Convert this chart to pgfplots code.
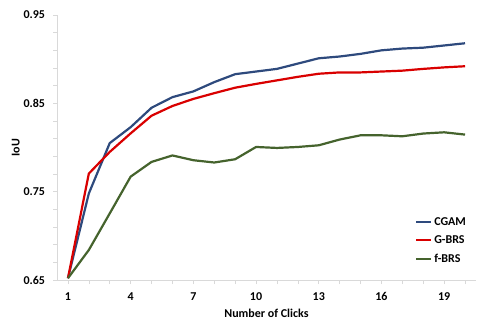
\documentclass[border=0pt]{standalone}
\usepackage{pgfplots}
\pgfplotsset{compat=1.18}
\usepackage{fontspec}
\setmainfont{Carlito}

\definecolor{cgam}{HTML}{2E4A7D}
\definecolor{gbrs}{HTML}{D90000}
\definecolor{fbrs}{HTML}{45632D}
\definecolor{axgray}{HTML}{D9D9D9}

\begin{document}
\begin{tikzpicture}
\begin{axis}[
    at={(0pt,0pt)}, anchor=south west,
    scale only axis,
    width=418pt, height=265pt,
    xmin=0.5, xmax=20.5,
    ymin=0.65, ymax=0.95,
    axis x line*=bottom, axis y line*=left,
    axis line style={axgray, line width=0.8pt, -},
    xtick={1,4,7,10,13,16,19},
    minor xtick={2,3,5,6,8,9,11,12,14,15,17,18,20},
    ytick={0.65,0.75,0.85,0.95},
    minor ytick={0.67,0.69,0.71,0.73,0.77,0.79,0.81,0.83,0.87,0.89,0.91,0.93},
    yticklabel style={/pgf/number format/fixed, /pgf/number format/fixed zerofill,
        /pgf/number format/precision=2, xshift=-5pt},
    tick style={axgray, line width=0.6pt},
    major tick length=4pt, minor tick length=4pt,
    tick align=outside,
    /pgf/number format/assume math mode=true,
    ticklabel style={font=\fontsize{12}{14}\selectfont\bfseries, black},
    xticklabel style={yshift=-5pt},
    xlabel={Number of Clicks},
    ylabel={IoU},
    label style={font=\fontsize{12}{14}\selectfont\bfseries},
    xlabel style={yshift=-1pt},
    ylabel style={yshift=-3pt},
    legend style={draw=none, fill=none, at={(0.855,0.245)}, anchor=north west,
        font=\fontsize{12}{14}\selectfont\bfseries, row sep=5pt, inner sep=0pt},
    legend cell align=left,
    legend image code/.code={\draw[#1] (0pt,0pt) -- (15pt,0pt);},
    every axis plot/.append style={line width=2.2pt, line join=round},
]
\addplot[cgam] coordinates {
(1,0.652) (2,0.748) (3,0.805) (4,0.823) (5,0.845) (6,0.857) (7,0.8635)
(8,0.874) (9,0.883) (10,0.886) (11,0.889) (12,0.895) (13,0.901) (14,0.903)
(15,0.906) (16,0.910) (17,0.912) (18,0.913) (19,0.9155) (20,0.918)
};
\addlegendentry{CGAM}
\addplot[gbrs] coordinates {
(1,0.652) (2,0.7705) (3,0.795) (4,0.816) (5,0.836) (6,0.847) (7,0.855)
(8,0.8615) (9,0.8677) (10,0.872) (11,0.876) (12,0.880) (13,0.8835) (14,0.885)
(15,0.885) (16,0.886) (17,0.887) (18,0.889) (19,0.8907) (20,0.892)
};
\addlegendentry{G-BRS}
\addplot[fbrs] coordinates {
(1,0.652) (2,0.684) (3,0.7254) (4,0.767) (5,0.7837) (6,0.791) (7,0.7856)
(8,0.783) (9,0.7867) (10,0.8006) (11,0.7995) (12,0.8006) (13,0.8025) (14,0.809)
(15,0.8138) (16,0.8138) (17,0.8127) (18,0.8158) (19,0.8172) (20,0.8146)
};
\addlegendentry{f-BRS}
\end{axis}
\pgfresetboundingbox
\path[use as bounding box] (-57.5pt,-47pt) rectangle (427.5pt,280pt);
\end{tikzpicture}
\end{document}
